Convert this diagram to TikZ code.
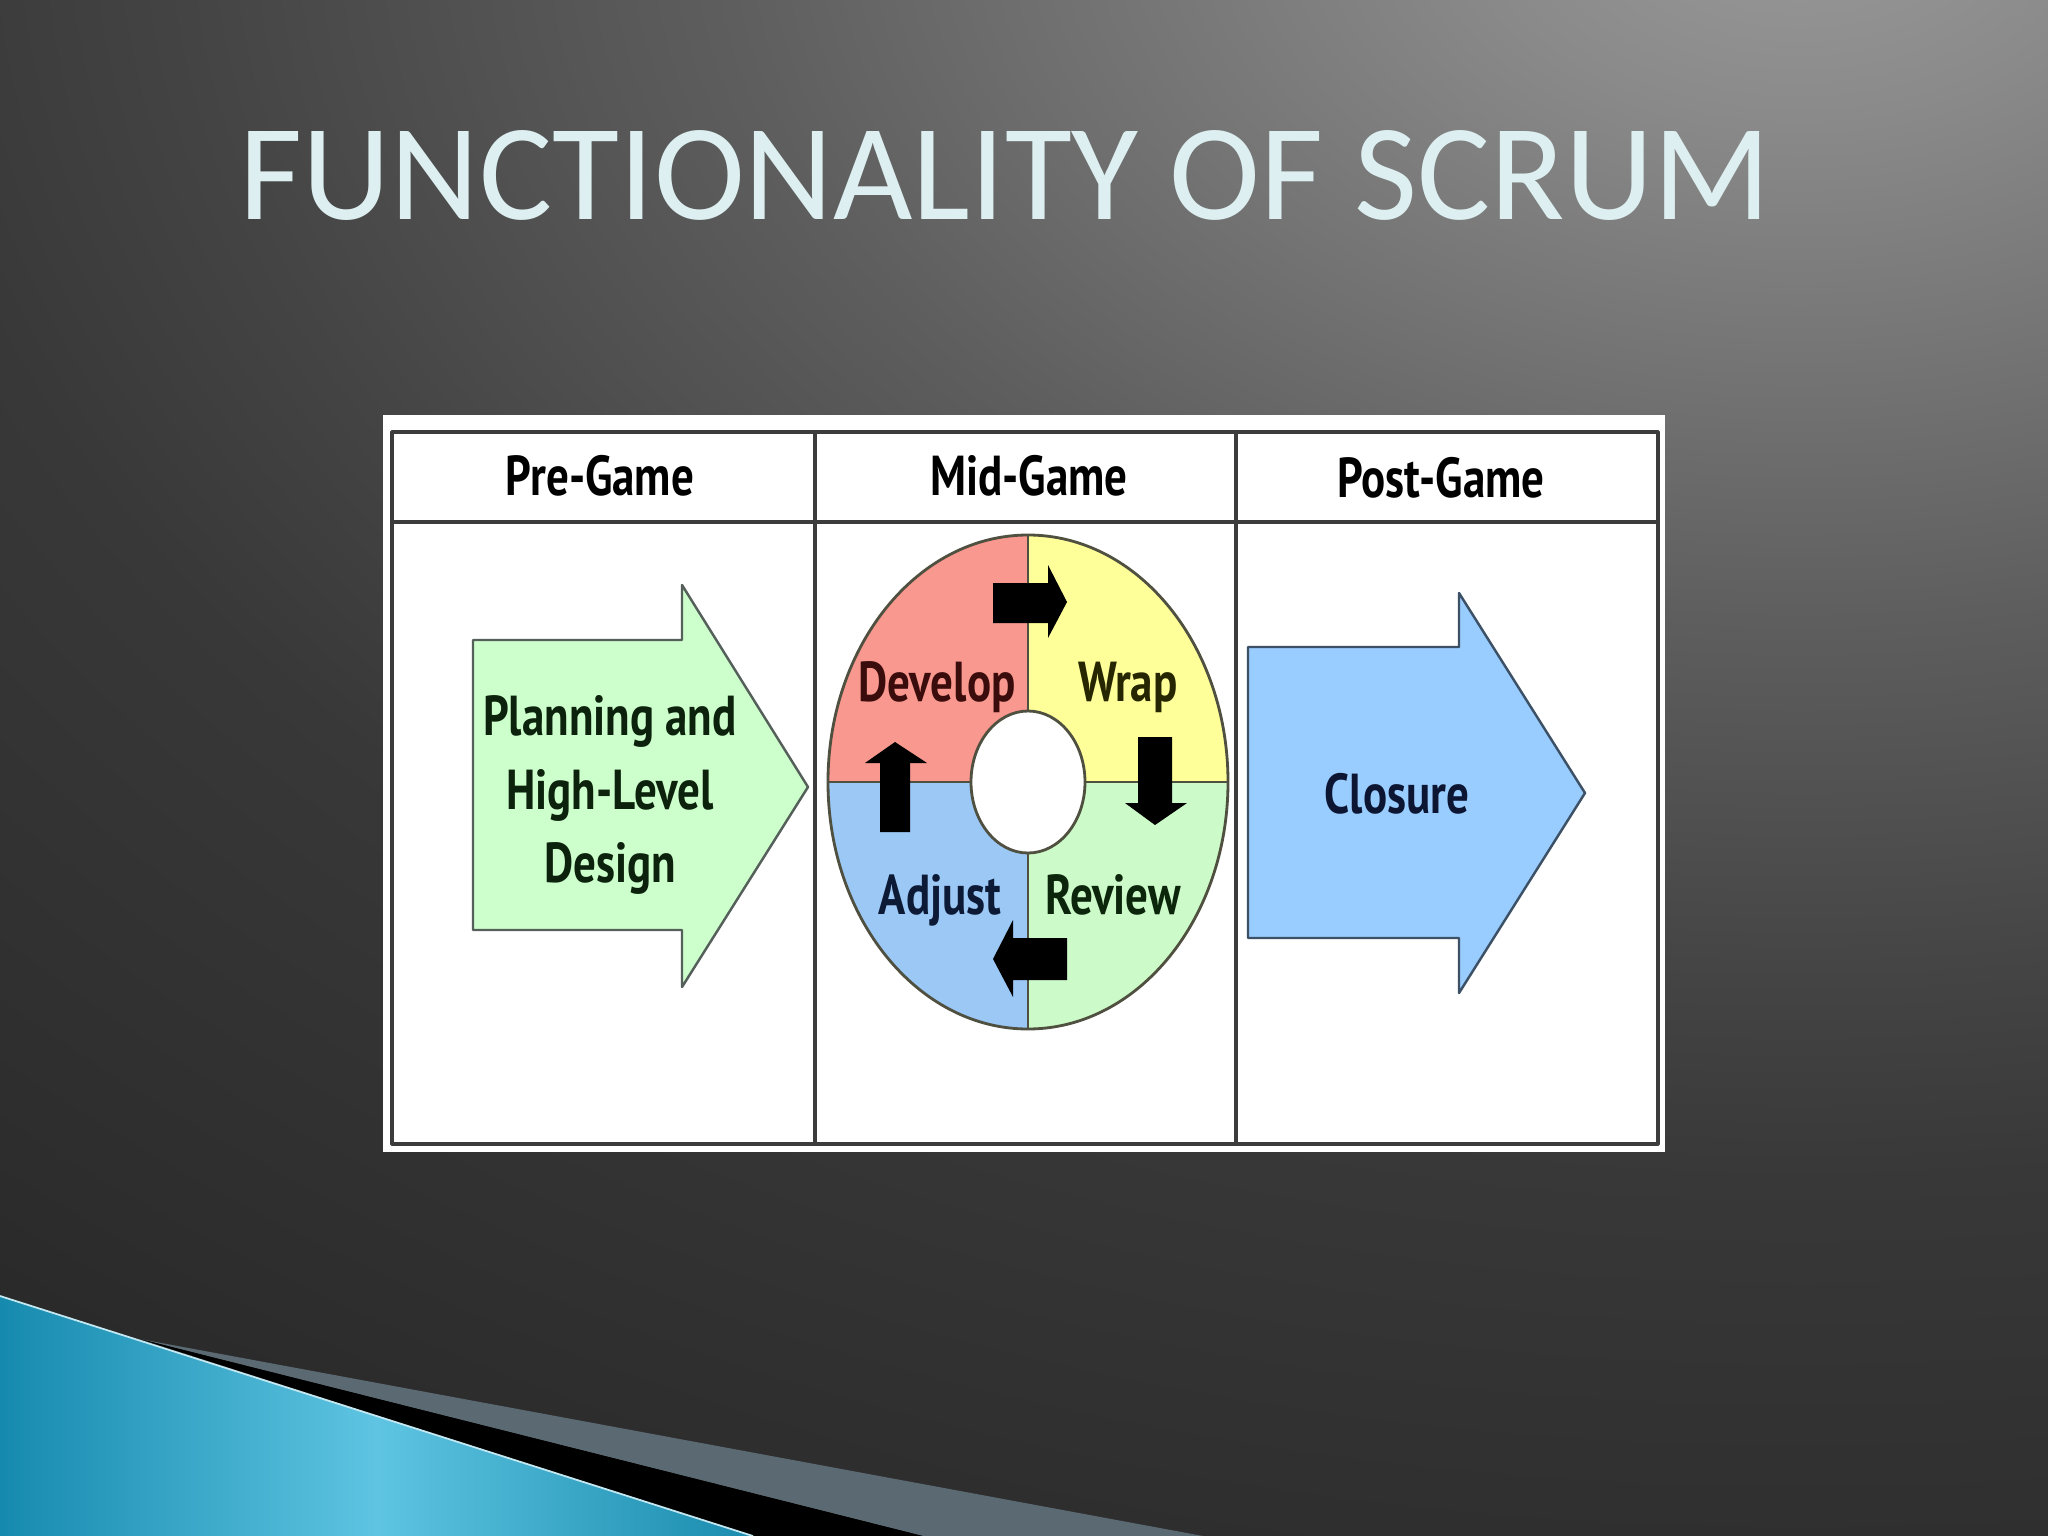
\documentclass[tikz,border=0pt]{standalone}
\usepackage{fontspec}
\setmainfont{Carlito}
\newfontfamily\diagfont[FakeStretch=0.8]{PT Sans}
\definecolor{bgA}{HTML}{9A9A9A}
\definecolor{bgB}{HTML}{8A8A8A}
\definecolor{bgC}{HTML}{5E5E5E}
\definecolor{bgD}{HTML}{444444}
\definecolor{bgE}{HTML}{383838}
\definecolor{bgF}{HTML}{2D2D2E}
\definecolor{bgG}{HTML}{262627}
\definecolor{bgH}{HTML}{1C1C1C}
\definecolor{titlecol}{HTML}{DDEFF0}
\definecolor{gridcol}{HTML}{3C3C3C}
\definecolor{plancol}{HTML}{CCFFCC}
\definecolor{planline}{HTML}{55605A}
\definecolor{closecol}{HTML}{99CCFF}
\definecolor{closeline}{HTML}{3D5166}
\definecolor{devcol}{HTML}{F8988E}
\definecolor{wrapcol}{HTML}{FFFF99}
\definecolor{adjcol}{HTML}{9CC8F6}
\definecolor{revcol}{HTML}{CCFAC8}
\definecolor{ringcol}{HTML}{4F5040}
\definecolor{devtxt}{HTML}{3A0C0C}
\definecolor{wraptxt}{HTML}{262600}
\definecolor{adjtxt}{HTML}{0C1A36}
\definecolor{revtxt}{HTML}{0C260C}
\definecolor{plantxt}{HTML}{0C220C}
\definecolor{closetxt}{HTML}{0C1632}
\definecolor{blueL}{HTML}{168AAE}
\definecolor{blueM}{HTML}{5EC4E2}
\definecolor{blueR}{HTML}{1A8CAE}
\definecolor{stripecol}{HTML}{5B6A72}
\definecolor{edgecol}{HTML}{C4E8F2}
\pgfdeclareradialshading{slidebg}{\pgfpoint{0bp}{0bp}}{color(0bp)=(bgA); color(2.7bp)=(bgB); color(9bp)=(bgC); color(13.5bp)=(bgD); color(16bp)=(bgE); color(21.6bp)=(bgF); color(24.6bp)=(bgG); color(30bp)=(bgH); color(50bp)=(bgH)}

\begin{document}
\begin{tikzpicture}[x=0.01cm,y=-0.01cm,line join=round,
  titletxt/.style={anchor=base,inner sep=0,text=titlecol,font=\fontsize{39}{47}\selectfont},
  headtxt/.style={anchor=base,inner sep=0,font=\diagfont\bfseries\fontsize{16}{21}\selectfont},
  gridline/.style={draw=gridcol,line width=0.9pt},
  ringline/.style={draw=ringcol,line width=0.8pt},
  blockarrow/.style={fill=black}]
  \useasboundingbox (0,0) rectangle (2048,1536);
  \begin{scope}
    \clip (0,0) rectangle (2048,1536);
    \fill[shading=slidebg] (1800,-100) ellipse [x radius=3000,y radius=2000];
  \end{scope}
  \shade[left color=blueL,right color=blueR,middle color=blueM] (0,1296) -- (753,1536) -- (0,1536) -- cycle;
  \fill[stripecol] (140,1339) -- (923,1536) -- (1203,1536) -- cycle;
  \fill[black] (140,1339) -- (753,1536) -- (923,1536) -- cycle;
  \draw[edgecol,line width=0.5pt] (0,1296) -- (753,1536);
  \node[titletxt] (title) at (1005,219) {FUNCTIONALITY OF SCRUM};
  \fill[white] (383,415) rectangle (1665,1152);
  \draw[gridline] (392,432) rectangle (1658,1144);
  \draw[gridline] (392,522) -- (1658,522);
  \draw[gridline] (815,432) -- (815,1144);
  \draw[gridline] (1236,432) -- (1236,1144);
  \node[headtxt] (pregame) at (600,495) {Pre-Game};
  \node[headtxt] (midgame) at (1029,495) {Mid-Game};
  \node[headtxt] (postgame) at (1441,497) {Post-Game};
  \filldraw[fill=plancol,draw=planline,line width=0.7pt] (473,640) -- (682,640) -- (682,585) -- (808,787) -- (682,987) -- (682,930) -- (473,930) -- cycle;
  \node[headtxt,anchor=center,align=center,text=plantxt] (planning) at (610,795) {Planning and\\High-Level\\Design};
  \begin{scope}
    \clip (1028,782) ellipse [x radius=200,y radius=247];
    \fill[devcol] (828,535) rectangle (1028,782);
    \fill[wrapcol] (1028,535) rectangle (1228,782);
    \fill[adjcol] (828,782) rectangle (1028,1029);
    \fill[revcol] (1028,782) rectangle (1228,1029);
  \end{scope}
  \draw[ringline] (1028,535) -- (1028,1029);
  \draw[ringline] (828,782) -- (1228,782);
  \draw[ringline] (1028,782) ellipse [x radius=200,y radius=247];
  \filldraw[ringline,fill=white] (1028,782) ellipse [x radius=57,y radius=71];
  \fill[blockarrow] (993,583) -- (1048,583) -- (1048,565) -- (1067,602) -- (1048,638) -- (1048,623) -- (993,623) -- cycle;
  \fill[blockarrow] (1138,737) -- (1172,737) -- (1172,803) -- (1187,803) -- (1155,825) -- (1125,803) -- (1138,803) -- cycle;
  \fill[blockarrow] (1067,938) -- (1067,980) -- (1013,980) -- (1013,997) -- (993,959) -- (1013,920) -- (1013,938) -- cycle;
  \fill[blockarrow] (880,832) -- (880,763) -- (865,763) -- (895,742) -- (927,763) -- (910,763) -- (910,832) -- cycle;
  \node[headtxt,text=devtxt] (develop) at (937,701) {Develop};
  \node[headtxt,text=wraptxt] (wrap) at (1128,701) {Wrap};
  \node[headtxt,text=adjtxt] (adjust) at (940,914) {Adjust};
  \node[headtxt,text=revtxt] (review) at (1113,914) {Review};
  \filldraw[fill=closecol,draw=closeline,line width=0.7pt] (1248,647) -- (1459,647) -- (1459,593) -- (1585,793) -- (1459,993) -- (1459,938) -- (1248,938) -- cycle;
  \node[headtxt,text=closetxt] (closure) at (1397,813) {Closure};
\end{tikzpicture}
\end{document}
